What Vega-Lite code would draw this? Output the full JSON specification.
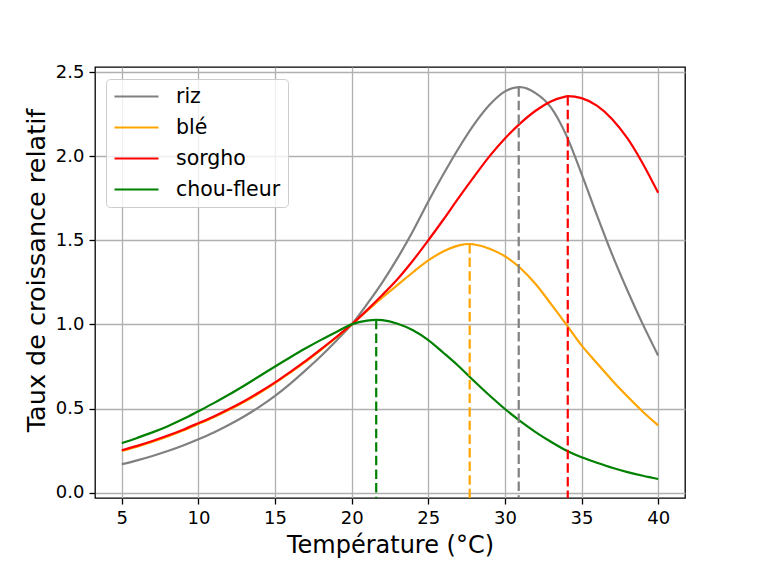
{
  "$schema": "https://vega.github.io/schema/vega-lite/v6.json",
  "width": 590,
  "height": 431,
  "autosize": {"type": "none"},
  "padding": {"left": 95, "top": 67, "right": 75, "bottom": 72},
  "background": "white",
  "config": {
    "font": "DejaVu Sans",
    "view": {"stroke": "black", "strokeWidth": 1.3},
    "axis": {
      "grid": true,
      "gridColor": "#b0b0b0",
      "gridWidth": 1.3,
      "domain": false,
      "tickColor": "black",
      "tickSize": 6,
      "tickWidth": 1.3,
      "labelFontSize": 18,
      "labelColor": "black",
      "labelPadding": 5,
      "titleFontSize": 24,
      "titleFontWeight": "normal",
      "titleColor": "black"
    }
  },
  "datasets": {
    "curves": [
      {"crop": "riz", "T": 5, "v": 0.169}, {"crop": "riz", "T": 6, "v": 0.192}, {"crop": "riz", "T": 7, "v": 0.218}, {"crop": "riz", "T": 8, "v": 0.247},
      {"crop": "riz", "T": 9, "v": 0.28}, {"crop": "riz", "T": 10, "v": 0.317}, {"crop": "riz", "T": 11, "v": 0.357}, {"crop": "riz", "T": 12, "v": 0.403},
      {"crop": "riz", "T": 13, "v": 0.454}, {"crop": "riz", "T": 14, "v": 0.511}, {"crop": "riz", "T": 15, "v": 0.575}, {"crop": "riz", "T": 16, "v": 0.648},
      {"crop": "riz", "T": 17, "v": 0.728}, {"crop": "riz", "T": 18, "v": 0.812}, {"crop": "riz", "T": 19, "v": 0.903}, {"crop": "riz", "T": 20, "v": 1.0},
      {"crop": "riz", "T": 21, "v": 1.12}, {"crop": "riz", "T": 22, "v": 1.25}, {"crop": "riz", "T": 23, "v": 1.395}, {"crop": "riz", "T": 24, "v": 1.555},
      {"crop": "riz", "T": 25, "v": 1.73}, {"crop": "riz", "T": 26, "v": 1.895}, {"crop": "riz", "T": 27, "v": 2.05}, {"crop": "riz", "T": 28, "v": 2.19},
      {"crop": "riz", "T": 29, "v": 2.305}, {"crop": "riz", "T": 30, "v": 2.385}, {"crop": "riz", "T": 30.9, "v": 2.41}, {"crop": "riz", "T": 31, "v": 2.41},
      {"crop": "riz", "T": 32, "v": 2.375}, {"crop": "riz", "T": 33, "v": 2.29}, {"crop": "riz", "T": 34, "v": 2.125}, {"crop": "riz", "T": 35, "v": 1.895},
      {"crop": "riz", "T": 36, "v": 1.65}, {"crop": "riz", "T": 37, "v": 1.415}, {"crop": "riz", "T": 38, "v": 1.2}, {"crop": "riz", "T": 39, "v": 1.0},
      {"crop": "riz", "T": 40, "v": 0.815},

      {"crop": "blé", "T": 5, "v": 0.247}, {"crop": "blé", "T": 6, "v": 0.273}, {"crop": "blé", "T": 7, "v": 0.302}, {"crop": "blé", "T": 8, "v": 0.334},
      {"crop": "blé", "T": 9, "v": 0.369}, {"crop": "blé", "T": 10, "v": 0.408}, {"crop": "blé", "T": 11, "v": 0.448}, {"crop": "blé", "T": 12, "v": 0.492},
      {"crop": "blé", "T": 13, "v": 0.54}, {"crop": "blé", "T": 14, "v": 0.593}, {"crop": "blé", "T": 15, "v": 0.651}, {"crop": "blé", "T": 16, "v": 0.714},
      {"crop": "blé", "T": 17, "v": 0.779}, {"crop": "blé", "T": 18, "v": 0.849}, {"crop": "blé", "T": 19, "v": 0.922}, {"crop": "blé", "T": 20, "v": 1.0},
      {"crop": "blé", "T": 21, "v": 1.08}, {"crop": "blé", "T": 22, "v": 1.16}, {"crop": "blé", "T": 23, "v": 1.235}, {"crop": "blé", "T": 24, "v": 1.31},
      {"crop": "blé", "T": 25, "v": 1.38}, {"crop": "blé", "T": 26, "v": 1.435}, {"crop": "blé", "T": 27, "v": 1.47}, {"crop": "blé", "T": 27.7, "v": 1.478},
      {"crop": "blé", "T": 28, "v": 1.475}, {"crop": "blé", "T": 29, "v": 1.45}, {"crop": "blé", "T": 30, "v": 1.405}, {"crop": "blé", "T": 31, "v": 1.335},
      {"crop": "blé", "T": 32, "v": 1.24}, {"crop": "blé", "T": 33, "v": 1.122}, {"crop": "blé", "T": 34, "v": 1.0}, {"crop": "blé", "T": 35, "v": 0.875},
      {"crop": "blé", "T": 36, "v": 0.77}, {"crop": "blé", "T": 37, "v": 0.667}, {"crop": "blé", "T": 38, "v": 0.571}, {"crop": "blé", "T": 39, "v": 0.481},
      {"crop": "blé", "T": 40, "v": 0.4},

      {"crop": "sorgho", "T": 5, "v": 0.252}, {"crop": "sorgho", "T": 6, "v": 0.278}, {"crop": "sorgho", "T": 7, "v": 0.307}, {"crop": "sorgho", "T": 8, "v": 0.339},
      {"crop": "sorgho", "T": 9, "v": 0.374}, {"crop": "sorgho", "T": 10, "v": 0.413}, {"crop": "sorgho", "T": 11, "v": 0.453}, {"crop": "sorgho", "T": 12, "v": 0.497},
      {"crop": "sorgho", "T": 13, "v": 0.545}, {"crop": "sorgho", "T": 14, "v": 0.598}, {"crop": "sorgho", "T": 15, "v": 0.655}, {"crop": "sorgho", "T": 16, "v": 0.718},
      {"crop": "sorgho", "T": 17, "v": 0.783}, {"crop": "sorgho", "T": 18, "v": 0.853}, {"crop": "sorgho", "T": 19, "v": 0.925}, {"crop": "sorgho", "T": 20, "v": 1.0},
      {"crop": "sorgho", "T": 21, "v": 1.085}, {"crop": "sorgho", "T": 22, "v": 1.175}, {"crop": "sorgho", "T": 23, "v": 1.27}, {"crop": "sorgho", "T": 24, "v": 1.38},
      {"crop": "sorgho", "T": 25, "v": 1.5}, {"crop": "sorgho", "T": 26, "v": 1.625}, {"crop": "sorgho", "T": 27, "v": 1.755}, {"crop": "sorgho", "T": 28, "v": 1.88},
      {"crop": "sorgho", "T": 29, "v": 2.0}, {"crop": "sorgho", "T": 30, "v": 2.105}, {"crop": "sorgho", "T": 31, "v": 2.195}, {"crop": "sorgho", "T": 32, "v": 2.27},
      {"crop": "sorgho", "T": 33, "v": 2.325}, {"crop": "sorgho", "T": 34, "v": 2.355}, {"crop": "sorgho", "T": 34.1, "v": 2.357}, {"crop": "sorgho", "T": 35, "v": 2.345},
      {"crop": "sorgho", "T": 36, "v": 2.3}, {"crop": "sorgho", "T": 37, "v": 2.22}, {"crop": "sorgho", "T": 38, "v": 2.105}, {"crop": "sorgho", "T": 39, "v": 1.955},
      {"crop": "sorgho", "T": 40, "v": 1.782},

      {"crop": "chou-fleur", "T": 5, "v": 0.294}, {"crop": "chou-fleur", "T": 6, "v": 0.325}, {"crop": "chou-fleur", "T": 7, "v": 0.358}, {"crop": "chou-fleur", "T": 8, "v": 0.395},
      {"crop": "chou-fleur", "T": 9, "v": 0.437}, {"crop": "chou-fleur", "T": 10, "v": 0.484}, {"crop": "chou-fleur", "T": 11, "v": 0.532}, {"crop": "chou-fleur", "T": 12, "v": 0.583},
      {"crop": "chou-fleur", "T": 13, "v": 0.637}, {"crop": "chou-fleur", "T": 14, "v": 0.693}, {"crop": "chou-fleur", "T": 15, "v": 0.75}, {"crop": "chou-fleur", "T": 16, "v": 0.805},
      {"crop": "chou-fleur", "T": 17, "v": 0.858}, {"crop": "chou-fleur", "T": 18, "v": 0.908}, {"crop": "chou-fleur", "T": 19, "v": 0.955}, {"crop": "chou-fleur", "T": 20, "v": 1.0},
      {"crop": "chou-fleur", "T": 21, "v": 1.022}, {"crop": "chou-fleur", "T": 21.6, "v": 1.027}, {"crop": "chou-fleur", "T": 22, "v": 1.025}, {"crop": "chou-fleur", "T": 23, "v": 1.004},
      {"crop": "chou-fleur", "T": 24, "v": 0.965}, {"crop": "chou-fleur", "T": 25, "v": 0.907}, {"crop": "chou-fleur", "T": 26, "v": 0.83}, {"crop": "chou-fleur", "T": 27, "v": 0.75},
      {"crop": "chou-fleur", "T": 28, "v": 0.662}, {"crop": "chou-fleur", "T": 29, "v": 0.577}, {"crop": "chou-fleur", "T": 30, "v": 0.497}, {"crop": "chou-fleur", "T": 31, "v": 0.425},
      {"crop": "chou-fleur", "T": 32, "v": 0.36}, {"crop": "chou-fleur", "T": 33, "v": 0.302}, {"crop": "chou-fleur", "T": 34, "v": 0.25}, {"crop": "chou-fleur", "T": 35, "v": 0.21},
      {"crop": "chou-fleur", "T": 36, "v": 0.178}, {"crop": "chou-fleur", "T": 37, "v": 0.148}, {"crop": "chou-fleur", "T": 38, "v": 0.122}, {"crop": "chou-fleur", "T": 39, "v": 0.1},
      {"crop": "chou-fleur", "T": 40, "v": 0.081}
    ],
    "peaks": [
      {"crop": "riz", "T": 30.9, "peak": 2.41},
      {"crop": "blé", "T": 27.7, "peak": 1.478},
      {"crop": "sorgho", "T": 34.1, "peak": 2.357},
      {"crop": "chou-fleur", "T": 21.6, "peak": 1.027}
    ]
  },
  "layer": [
    {
      "data": {"name": "curves"},
      "mark": {"type": "line", "interpolate": "monotone", "strokeWidth": 2.2},
      "encoding": {
        "x": {
          "field": "T", "type": "quantitative",
          "scale": {"domain": [3.25, 41.75], "nice": false, "zero": false},
          "axis": {"values": [5, 10, 15, 20, 25, 30, 35, 40], "title": "Température (°C)", "titlePadding": 6}
        },
        "y": {
          "field": "v", "type": "quantitative",
          "scale": {"domain": [-0.032, 2.53], "nice": false, "zero": false},
          "axis": {"values": [0, 0.5, 1, 1.5, 2, 2.5], "format": ".1f", "title": "Taux de croissance relatif", "titlePadding": 6, "titleFontSize": 25.5, "titleY": 203}
        },
        "color": {
          "field": "crop", "type": "nominal",
          "scale": {"domain": ["riz", "blé", "sorgho", "chou-fleur"], "range": ["#808080", "#ffa500", "#ff0000", "#008000"]},
          "legend": {
            "title": null,
            "orient": "none",
            "legendX": 11,
            "legendY": 12,
            "labelFontSize": 20.5,
            "labelColor": "black",
            "symbolType": "stroke",
            "symbolSize": 1936,
            "symbolStrokeWidth": 2.2,
            "labelOffset": 16,
            "clipHeight": 21,
            "rowPadding": 10,
            "padding": 7,
            "strokeColor": "#cccccc",
            "cornerRadius": 4,
            "fillColor": "rgba(255,255,255,0.8)"
          }
        }
      }
    },
    {
      "data": {"name": "peaks"},
      "mark": {"type": "rule", "strokeDash": [9.5, 4.1], "strokeWidth": 2.2},
      "encoding": {
        "x": {"field": "T", "type": "quantitative"},
        "y": {"field": "peak", "type": "quantitative"},
        "y2": {"datum": -0.032},
        "color": {"field": "crop", "type": "nominal", "legend": null}
      }
    }
  ]
}
